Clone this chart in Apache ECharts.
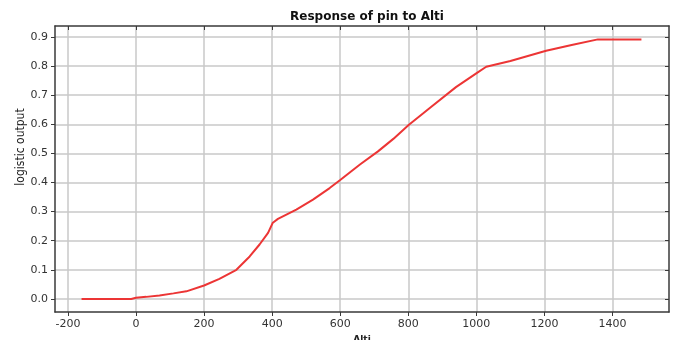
<!DOCTYPE html>
<html><head><meta charset="utf-8">
<script src="https://cdn.jsdelivr.net/npm/echarts@6/dist/echarts.min.js"></script>
<style>html,body{margin:0;padding:0;background:#fff}#c{width:677px;height:340px}</style>
</head><body><div id="c"></div>
<script>
const altiValues = [-160, -100, -50, -14, 0, 30, 69, 110, 148, 200, 245, 295, 334, 363, 388, 402, 417, 471, 520, 569, 599, 658, 711, 756, 801, 865, 940, 1003, 1029, 1100, 1205, 1280, 1357, 1485];
const logisticOutput = [0, 0, 0, 0, 0.004, 0.007, 0.012, 0.019, 0.026, 0.046, 0.069, 0.100, 0.146, 0.187, 0.227, 0.262, 0.275, 0.307, 0.341, 0.381, 0.408, 0.462, 0.507, 0.550, 0.598, 0.658, 0.728, 0.778, 0.798, 0.818, 0.853, 0.873, 0.892, 0.892];
const xTicks = [-200, 0, 200, 400, 600, 800, 1000, 1200, 1400];
const yTicks = [0, 0.1, 0.2, 0.3, 0.4, 0.5, 0.6, 0.7, 0.8, 0.9];

const chart = echarts.init(document.getElementById('c'), null, {renderer: 'canvas'});
const frameColor = '#3a3a3a';
const gridColor = '#c9c9c9';
const labelStyle = {color: '#333', fontFamily: 'DejaVu Sans', fontSize: 11};
chart.setOption({
  animation: false,
  backgroundColor: '#fff',
  title: {text: 'Response of pin to Alti', left: 362, textAlign: 'center', top: 6,
    textStyle: {fontFamily: 'DejaVu Sans', fontWeight: 'bold', fontSize: 12, color: '#111'}},
  grid: {left: 55, right: 8, top: 26, bottom: 28, show: false, containLabel: false, outerBoundsMode: 'none'},
  xAxis: [{
    type: 'value', min: -238, max: 1566, position: 'bottom',
    name: 'Alti', nameLocation: 'middle', nameGap: 21,
    nameTextStyle: {fontFamily: 'DejaVu Sans', fontWeight: 'bold', fontSize: 9, color: '#222'},
    axisLine: {show: true, onZero: false, lineStyle: {color: frameColor, width: 1.5}},
    axisTick: {show: true, inside: false, length: 4, customValues: xTicks, lineStyle: {color: frameColor}},
    axisLabel: Object.assign({customValues: xTicks, margin: 7, formatter: v => String(v)}, labelStyle),
    splitLine: {show: true, lineStyle: {color: gridColor, width: 1.5}}
  }, {
    type: 'value', min: -238, max: 1566, position: 'top',
    axisLine: {show: true, onZero: false, lineStyle: {color: frameColor, width: 1.5}},
    axisTick: {show: true, inside: true, length: 4, customValues: xTicks, lineStyle: {color: frameColor}},
    axisLabel: {show: false}, splitLine: {show: false}
  }],
  yAxis: [{
    type: 'value', min: -0.045, max: 0.938, position: 'left',
    name: 'logistic output', nameLocation: 'middle', nameGap: 28, nameRotate: 90, nameMoveOverlap: false,
    nameTextStyle: {fontFamily: 'DejaVu Sans Condensed', fontSize: 12, color: '#222', padding: [0, 0, 0, 44]},
    axisLine: {show: true, onZero: false, lineStyle: {color: frameColor, width: 1.5}},
    axisTick: {show: true, inside: false, length: 4, customValues: yTicks, lineStyle: {color: frameColor}},
    axisLabel: Object.assign({customValues: yTicks, margin: 7, formatter: v => v.toFixed(1)}, labelStyle),
    splitLine: {show: true, lineStyle: {color: gridColor, width: 1.5}}
  }, {
    type: 'value', min: -0.045, max: 0.938, position: 'right',
    axisLine: {show: true, onZero: false, lineStyle: {color: frameColor, width: 1.5}},
    axisTick: {show: true, inside: true, length: 4, customValues: yTicks, lineStyle: {color: frameColor}},
    axisLabel: {show: false}, splitLine: {show: false}
  }],
  series: [{
    type: 'line', xAxisIndex: 0, yAxisIndex: 0, showSymbol: false, smooth: false,
    data: altiValues.map((x, i) => [x, logisticOutput[i]]),
    lineStyle: {color: '#ec3535', width: 2}
  }]
});
</script></body></html>
